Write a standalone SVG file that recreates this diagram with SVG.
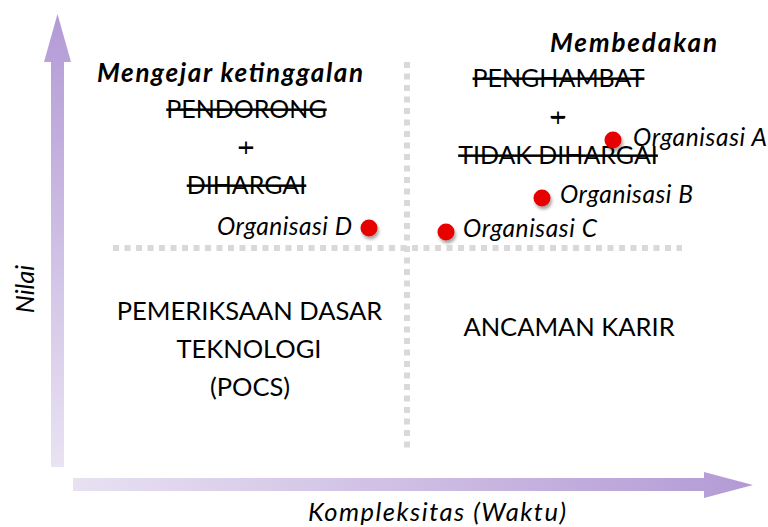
<svg xmlns="http://www.w3.org/2000/svg" width="768" height="527" viewBox="0 0 768 527">
  <defs>
    <linearGradient id="gradUp" x1="0" y1="1" x2="0" y2="0">
      <stop offset="0" stop-color="#e9e3f3"/>
      <stop offset="1" stop-color="#b39ad5"/>
    </linearGradient>
    <linearGradient id="gradRight" x1="0" y1="0" x2="1" y2="0">
      <stop offset="0" stop-color="#e8e1f2"/>
      <stop offset="1" stop-color="#b39ad5"/>
    </linearGradient>
    <filter id="dotShadow" x="-50%" y="-50%" width="200%" height="200%">
      <feDropShadow dx="1.5" dy="3" stdDeviation="1.8" flood-color="#000" flood-opacity="0.35"/>
    </filter>
  </defs>
  <style>
    text { font-family: Lato, "Open Sans", "DejaVu Sans", sans-serif; fill: #000; }
    .title { font-size: 26px; font-weight: bold; font-style: italic; }
    .strike { font-size: 25px; text-anchor: middle; text-decoration: line-through; }
    .quad { font-size: 25.5px; text-anchor: middle; }
    .org { font-size: 24.5px; font-style: italic; }
    .axis { font-size: 25.5px; font-style: italic; text-anchor: middle; }
    .grid { stroke: #d9d9d9; stroke-width: 6; stroke-dasharray: 6 5.5; fill: none; }
    .dot { fill: #e60000; filter: url(#dotShadow); }
  </style>

  <rect width="768" height="527" fill="#ffffff"/>

  <!-- axes -->
  <g id="axis-value">
    <path d="M51 467 V62 H44 L57.5 14 L71 62 H64 V467 Z" fill="url(#gradUp)"/>
    <text class="axis" transform="translate(34 289) rotate(-90)">Nilai</text>
  </g>
  <g id="axis-complexity">
    <path d="M73 478 H704 V472 L753 485 L704 498 V491 H73 Z" fill="url(#gradRight)"/>
    <text class="axis" x="437" y="521" textLength="258">Kompleksitas (Waktu)</text>
  </g>

  <!-- quadrant dividers -->
  <g id="connectors">
    <line class="grid" x1="113" y1="248" x2="682" y2="248"/>
    <line class="grid" x1="407" y1="62" x2="407" y2="451"/>
  </g>

  <!-- top-left quadrant -->
  <g id="quadrant-catch-up">
    <text class="title" x="97" y="82" textLength="266">Mengejar ketinggalan</text>
    <text class="strike" x="246.5" y="118">PENDORONG</text>
    <text class="strike" x="246" y="156">+</text>
    <text class="strike" x="246.5" y="194">DIHARGAI</text>
  </g>

  <!-- top-right quadrant -->
  <g id="quadrant-differentiate">
    <text class="title" x="550" y="52" textLength="167">Membedakan</text>
    <text class="strike" x="558.5" y="87">PENGHAMBAT</text>
    <text class="strike" x="558" y="125.5">+</text>
    <text class="strike" x="558" y="164">TIDAK DIHARGAI</text>
  </g>

  <!-- bottom-left quadrant -->
  <g id="quadrant-pocs">
    <text class="quad" x="249.5" y="320">PEMERIKSAAN DASAR</text>
    <text class="quad" x="249" y="358">TEKNOLOGI</text>
    <text class="quad" x="250" y="396">(POCS)</text>
  </g>

  <!-- bottom-right quadrant -->
  <g id="quadrant-career-threat">
    <text class="quad" x="569" y="336">ANCAMAN KARIR</text>
  </g>

  <!-- organisations -->
  <g id="org-a">
    <circle class="dot" cx="613" cy="140" r="8.5"/>
    <text class="org" x="633" y="146" textLength="134">Organisasi A</text>
  </g>
  <g id="org-b">
    <circle class="dot" cx="542" cy="198" r="8.5"/>
    <text class="org" x="560" y="203" textLength="133">Organisasi B</text>
  </g>
  <g id="org-c">
    <circle class="dot" cx="446" cy="232" r="8.5"/>
    <text class="org" x="463" y="237" textLength="134">Organisasi C</text>
  </g>
  <g id="org-d">
    <circle class="dot" cx="369" cy="228" r="8.5"/>
    <text class="org" x="217" y="235" textLength="135">Organisasi D</text>
  </g>
</svg>
